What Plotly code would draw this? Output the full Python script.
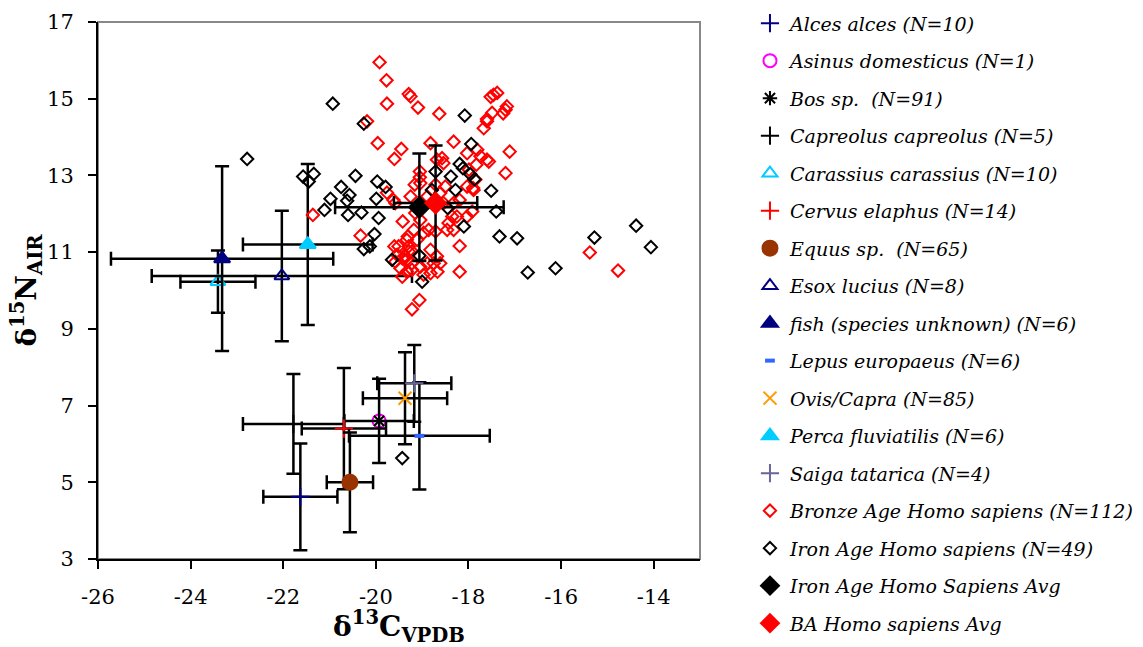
import plotly.graph_objects as go

# Faunal means and standard deviations (delta13C, delta15N)
fauna_names = [
    "Alces alces (N=10)",
    "Asinus domesticus (N=1)",
    "Bos sp.  (N=91)",
    "Capreolus capreolus (N=5)",
    "Carassius carassius (N=10)",
    "Cervus elaphus (N=14)",
    "Equus sp.  (N=65)",
    "Esox lucius (N=8)",
    "fish (species unknown) (N=6)",
    "Lepus europaeus (N=6)",
    "Ovis/Capra (N=85)",
    "Perca fluviatilis (N=6)",
    "Saiga tatarica (N=4)",
]
fauna_c = [-21.63, -19.93, -19.93, -21.78, -23.41, -20.69, -20.56, -22.03, -23.32, -19.06, -19.37, -21.47, -19.17]
fauna_n = [4.62, 6.60, 6.60, 6.52, 10.23, 6.40, 5.00, 10.38, 10.83, 6.21, 7.19, 11.20, 7.58]
fauna_sd_c = [0.80, 0.0, 0.75, 1.09, 0.81, 0.91, 0.50, 2.81, 2.40, 1.52, 0.91, 1.40, 0.80]
fauna_sd_n = [1.39, 0.0, 1.10, 1.30, 0.81, 1.58, 1.30, 1.70, 2.41, 1.40, 1.20, 2.10, 1.00]

# Bronze Age human individuals
ba_c = [-19.92, -19.77, -19.76, -19.29, -19.25, -19.09, -18.63, -20.19, -19.96, -19.45,
        -19.60, -18.82, -18.32, -17.46, -17.38, -17.17, -17.20, -17.49, -17.60, -17.67,
        -17.11, -17.20, -18.03, -17.81, -17.60, -17.56, -17.83, -17.99, -18.57, -18.54,
        -19.05, -19.16, -19.76, -19.58, -19.42, -20.33, -19.60, -19.43, -19.31, -19.43,
        -19.22, -19.06, -19.22, -18.67, -18.19, -18.19, -18.32, -17.92, -18.03, -15.38,
        -14.77, -18.19, -18.32, -18.71, -18.86, -18.97, -19.11, -19.29, -19.36, -18.82,
        -18.68, -18.89, -19.04, -19.22, -18.82, -18.35, -18.43, -18.54, -18.61, -18.50,
        -18.71, -18.89, -19.15, -19.04, -19.18, -19.33, -19.54, -19.29, -18.97, -18.75,
        -18.61, -18.46, -18.25, -18.03, -17.89, -17.85, -18.68, -19.04, -19.25, -21.36,
        -17.90, -19.62, -19.58, -19.33, -19.51, -17.60, -17.74, -17.25, -17.52, -19.05,
        -19.33, -19.22, -19.47]
ba_n = [15.95, 15.48, 14.87, 15.12, 15.06, 14.77, 14.61, 14.41, 13.84, 13.69,
        13.43, 13.84, 13.88, 15.10, 15.15, 14.80, 14.71, 14.63, 14.41, 14.23,
        13.62, 13.06, 13.58, 13.67, 13.41, 13.36, 13.28, 13.15, 13.45, 13.32,
        13.10, 12.76, 12.55, 12.28, 11.80, 11.43, 11.15, 10.84, 11.41, 10.36,
        10.54, 9.75, 9.51, 10.49, 10.49, 11.16, 11.58, 12.06, 11.93, 10.99,
        10.52, 12.36, 12.28, 11.54, 11.58, 11.50, 11.32, 11.15, 10.89, 11.06,
        10.89, 10.71, 10.62, 10.71, 10.45, 11.93, 11.76, 12.28, 12.54, 12.71,
        12.76, 12.45, 12.02, 11.84, 11.58, 11.32, 10.93, 11.02, 10.41, 10.71,
        10.71, 11.58, 11.93, 12.71, 12.62, 12.89, 13.41, 12.80, 12.45, 11.97,
        12.67, 12.36, 10.75, 10.80, 11.15, 14.47, 13.50, 14.62, 15.05, 12.95,
        10.49, 11.02, 10.58]

# Iron Age human individuals
ia_c = [-22.78, -20.93, -20.26, -21.57, -21.34, -21.45, -20.44, -20.75, -20.57, -20.98,
        -20.62, -21.11, -20.60, -20.31, -19.97, -19.99, -19.94, -20.03, -20.26, -20.13,
        -18.08, -17.94, -18.19, -18.12, -17.96, -17.87, -18.71, -18.38, -18.28, -18.79,
        -17.51, -18.45, -17.40, -18.10, -17.33, -16.95, -16.72, -16.12, -15.28, -14.38,
        -14.06, -19.06, -19.00, -19.65, -19.79, -19.43]
ia_n = [13.43, 14.87, 14.35, 12.97, 13.04, 12.84, 12.99, 12.70, 12.49, 12.39,
        12.34, 12.10, 11.97, 12.03, 12.84, 12.39, 11.89, 11.47, 11.08, 11.15,
        14.56, 13.82, 13.30, 13.19, 13.03, 12.90, 13.10, 12.97, 12.62, 12.62,
        12.60, 12.15, 12.06, 11.67, 11.41, 11.36, 10.47, 10.58, 11.38, 11.69,
        11.13, 10.91, 10.23, 10.80, 12.70, 5.63]

# Group averages with standard deviations
avg_names = ["Iron Age Homo Sapiens Avg", "BA Homo sapiens Avg"]
avg_c = [-19.06, -18.71]
avg_n = [12.17, 12.28]
avg_sd_c = [1.82, 0.90]
avg_sd_n = [1.40, 1.50]

# Axis ticks
x_ticks = [-26, -24, -22, -20, -18, -16, -14]
x_tick_labels = ["-26", "-24", "-22", "-20", "-18", "-16", "-14"]
y_ticks = [3, 5, 7, 9, 11, 13, 15, 17]
y_tick_labels = ["3", "5", "7", "9", "11", "13", "15", "17"]

# Marker styles for each faunal group: (symbol, colour, size)
fauna_style = [
    ("cross-thin-open", "#000080", 13),
    ("circle-open", "#FF00FF", 13),
    ("asterisk-open", "#000000", 12),
    ("cross-thin-open", "#000000", 13),
    ("triangle-up-open", "#00CCFF", 13),
    ("cross-thin-open", "#FF0000", 13),
    ("circle", "#993300", 15),
    ("triangle-up-open", "#000080", 13),
    ("triangle-up", "#000080", 14),
    ("line-ew-open", "#3366FF", 7),
    ("x-thin-open", "#FF9900", 13),
    ("triangle-up", "#00CCFF", 14),
    ("cross-thin-open", "#666699", 13),
]

SERIF = "DejaVu Serif"
fig = go.Figure()


def err(vals, show=True):
    return dict(type="data", array=vals, symmetric=True, color="black",
                thickness=2.5, width=7, visible=show)


for i, name in enumerate(fauna_names):
    sym, col, size = fauna_style[i]
    has_err = fauna_sd_c[i] > 0
    lw = 4 if sym.startswith("line") else 2
    fig.add_trace(go.Scatter(
        x=[fauna_c[i]], y=[fauna_n[i]], mode="markers", name=name,
        legendgroup=name,
        marker=dict(symbol=sym, color=col, size=size,
                    line=dict(color=col, width=lw)),
        error_x=err([fauna_sd_c[i]], has_err),
        error_y=err([fauna_sd_n[i]], has_err),
    ))

fig.add_trace(go.Scatter(
    x=ba_c, y=ba_n, mode="markers", name="Bronze Age Homo sapiens (N=112)",
    legendgroup="ba",
    marker=dict(symbol="diamond-open", color="#FF0000", size=9.5,
                line=dict(color="#FF0000", width=2)),
))
fig.add_trace(go.Scatter(
    x=ia_c, y=ia_n, mode="markers", name="Iron Age Homo sapiens (N=49)",
    legendgroup="ia",
    marker=dict(symbol="diamond-open", color="#000000", size=9.5,
                line=dict(color="#000000", width=2)),
))
for i, (name, col) in enumerate(zip(avg_names, ["#000000", "#FF0000"])):
    fig.add_trace(go.Scatter(
        x=[avg_c[i]], y=[avg_n[i]], mode="markers", name=name,
        legendgroup=name,
        marker=dict(symbol="diamond", color=col, size=18),
        error_x=err([avg_sd_c[i]]),
        error_y=err([avg_sd_n[i]]),
    ))

axis_common = dict(
    showline=True, linecolor="black", linewidth=2,
    ticks="outside", ticklen=8, tickwidth=2, tickcolor="black",
    showgrid=False, zeroline=False, ticklabelstandoff=10,
    tickfont=dict(family=SERIF, size=21, color="black"),
)

fig.update_layout(
    width=1143, height=647,
    margin=dict(l=98, r=443, t=22, b=88, autoexpand=False),
    plot_bgcolor="white", paper_bgcolor="white",
    xaxis=dict(range=[-26, -13], tickvals=x_ticks, ticktext=x_tick_labels, **axis_common,
               title=dict(text="<b>δ<sup>13</sup>C<sub>VPDB</sub></b>",
                          font=dict(family=SERIF, size=28, color="black"),
                          standoff=0)),
    yaxis=dict(range=[3, 17], tickvals=y_ticks, ticktext=y_tick_labels, **axis_common,
               title=dict(text="<b>δ<sup>15</sup>N<sub>AIR</sub></b>",
                          font=dict(family=SERIF, size=28, color="black"),
                          standoff=0)),
    legend=dict(x=1.083, y=1.033, xanchor="left", yanchor="top", maxheight=700,
                font=dict(family=SERIF, size=19, color="black", style="italic"),
                tracegroupgap=9.8, bgcolor="rgba(0,0,0,0)"),
    shapes=[dict(type="rect", xref="paper", yref="paper", x0=0, y0=0, x1=1, y1=1,
                 line=dict(color="#888888", width=2), layer="below")],
)

fig.write_html("out.html")
